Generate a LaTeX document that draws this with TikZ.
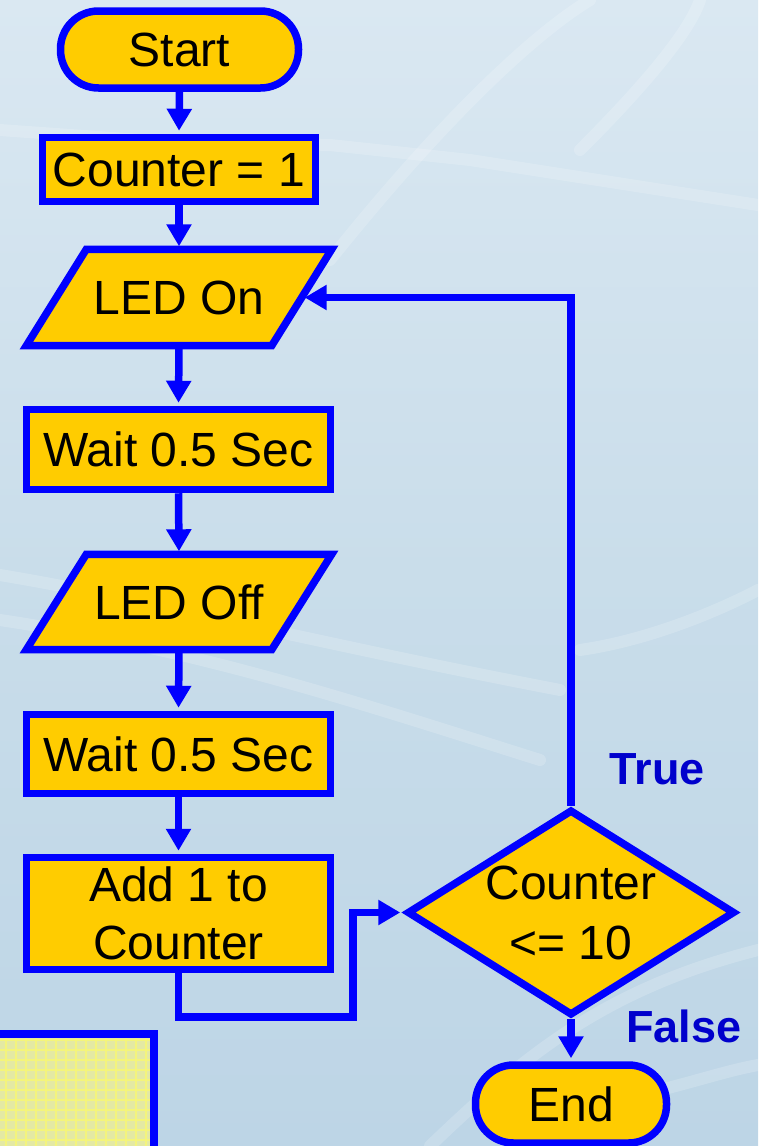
\documentclass[tikz,border=0pt]{standalone}
\usepackage{fontspec}
\setmainfont{Liberation Sans}
\usetikzlibrary{shapes.geometric,arrows.meta}
\definecolor{flowblue}{HTML}{0000FF}
\definecolor{labelblue}{HTML}{0000CC}
\definecolor{flowfill}{HTML}{FFCC00}
\definecolor{bgtop}{HTML}{DAE8F2}
\definecolor{bgmid}{HTML}{C9DDEA}
\definecolor{bgbot}{HTML}{BDD5E6}
\definecolor{notefill}{HTML}{E4E9A4}
\definecolor{notegrid}{HTML}{F4F47C}
\tikzset{
  lbl/.style={font=\fontsize{48}{58}\selectfont, text=black},
  procbox/.style={draw=flowblue, fill=flowfill, line width=7.5pt, rectangle, inner sep=0pt, lbl, align=center},
  termbox/.style={procbox, rounded corners=38pt},
  iobox/.style={rectangle, inner sep=0pt, lbl, minimum width=245pt},
  decbox/.style={diamond, draw=flowblue, fill=flowfill, line width=7.5pt, inner sep=0pt, aspect=1.6, minimum width=328pt, minimum height=206pt, lbl, align=center},
  arr/.style={draw=flowblue, line width=7.5pt, -{Triangle[width=24pt,length=22pt]}, shorten >=3pt},
  tflabel/.style={font=\fontsize{45}{50}\selectfont\bfseries, text=labelblue}
}
\begin{document}
\begin{tikzpicture}[x=1pt,y=-1pt]
% background
\useasboundingbox (0,0) rectangle (758,1146);
\shade[top color=bgtop, bottom color=bgbot, middle color=bgmid] (0,0) rectangle (758,1146);
\begin{scope}[white, opacity=0.18, line width=12pt, line cap=round]
  \draw (0,130) -- (140,140) -- (330,145) -- (470,160) -- (758,205);
  \draw (330,260) .. controls (450,110) and (540,30) .. (590,0);
  \draw (580,150) .. controls (650,80) and (690,30) .. (700,0);
  \draw (0,575) .. controls (150,600) and (300,640) .. (560,690);
  \draw (0,620) .. controls (200,650) and (350,700) .. (540,760);
  \draw (580,650) .. controls (650,640) and (720,610) .. (758,590);
  \draw (430,1146) .. controls (520,1060) and (600,990) .. (758,950);
  \draw (660,1090) .. controls (700,1080) and (730,1070) .. (758,1065);
\end{scope}
% note box bottom-left
\begin{scope}
  \fill[notefill] (-10,1034) rectangle (154,1156);
  \clip (-10,1034) rectangle (154,1156);
  \foreach \i in {0,...,16} {
    \draw[notegrid, line width=1.2pt] (\i*10-4,1030) -- (\i*10-4,1160);
    \draw[notegrid, line width=1.2pt] (-10,1040+\i*10) -- (160,1040+\i*10);
  }
\end{scope}
\draw[flowblue, line width=7.5pt] (-10,1034) -- (154,1034) -- (154,1160);

% nodes
\node[termbox, minimum width=238pt, minimum height=77pt] (start) at (179.5,49.5) {Start};
\node[procbox, minimum width=273pt, minimum height=64pt] (cnt) at (179,169.5) {Counter = 1};
\node[iobox, minimum height=96pt] (ledon) at (179,297.5) {};
\draw[draw=flowblue, fill=flowfill, line width=7.5pt, line join=miter]
  ([xshift=-30pt]ledon.south west) -- ([xshift=-30pt]ledon.south east) --
  ([xshift=30pt]ledon.north east) -- ([xshift=30pt]ledon.north west) -- cycle;
\node[iobox, minimum height=96pt] (ledontext) at (ledon) {LED On};
\node[procbox, minimum width=304pt, minimum height=80pt] (wait1) at (178.5,449.5) {Wait 0.5 Sec};
\node[iobox, minimum height=95pt] (ledoff) at (179,602) {};
\draw[draw=flowblue, fill=flowfill, line width=7.5pt, line join=miter]
  ([xshift=-30pt]ledoff.south west) -- ([xshift=-30pt]ledoff.south east) --
  ([xshift=30pt]ledoff.north east) -- ([xshift=30pt]ledoff.north west) -- cycle;
\node[iobox, minimum height=95pt] (ledofftext) at (ledoff) {LED Off};
\node[procbox, minimum width=304pt, minimum height=79pt] (wait2) at (178.5,754) {Wait 0.5 Sec};
\node[procbox, minimum width=304pt, minimum height=112pt] (add) at (178.5,913.5) {Add 1 to\\Counter};
\node[decbox] (dec) at (571,912.5) {Counter\\[2pt]{<}= 10};
\node[termbox, minimum width=191pt, minimum height=78pt] (end) at (571,1104) {End};

\node[tflabel] (true) at (657,769) {True};
\node[tflabel] (false) at (684,1026) {False};

% connectors
\coordinate (b1) at (353,1017);
\draw[arr] (start.south) -- (cnt.north);
\draw[arr] (cnt.south) -- (ledon.north);
\draw[arr] (ledon.south) -- (wait1.north);
\draw[arr] (wait1.south) -- (ledoff.north);
\draw[arr] (ledoff.south) -- (wait2.north);
\draw[arr] (wait2.south) -- (add.north);
\draw[arr] (add.south) |- (b1) |- (dec.west);
\draw[arr] (dec.north) |- (ledon.east);
\draw[arr] (dec.south) -- (end.north);
\end{tikzpicture}
\end{document}
